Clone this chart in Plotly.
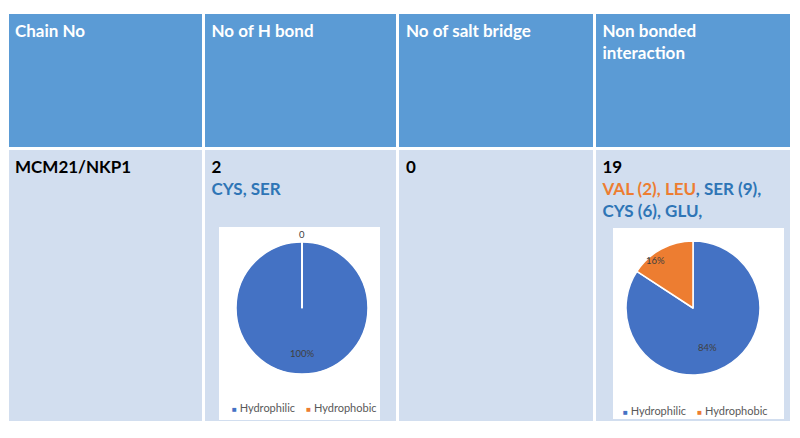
import math
import plotly.graph_objects as go

W, H = 800, 438

# ---- table data ----
header_labels = ["Chain No", "No of H bond", "No of salt bridge", "Non bonded<br>interaction"]
chain_name = "MCM21/NKP1"
h_bond_count = 2
h_bond_residues = ["CYS", "SER"]
salt_bridge_count = 0
nonbonded_count = 19
nonbonded_hydrophobic = ["VAL (2)", "LEU"]
nonbonded_hydrophilic = ["SER (9)", "CYS (6)", "GLU"]

# ---- pie data ----
pie_labels = ["Hydrophilic", "Hydrophobic"]
h_bond_pie = [2, 0]
nonbonded_pie = [16, 3]

HEADER_BLUE = "#5B9BD5"
BODY_BLUE = "#D2DEEF"
TEXT_BLUE = "#2E75B6"
ORANGE = "#ED7D31"
PIE_COLORS = ["#4472C4", "#ED7D31"]

# table geometry in pixels
T_LEFT, T_RIGHT, T_TOP = 7, 791, 12
HEADER_H, BODY_H = 136, 274


def px(x):
    return x / W


def py(y):
    return 1 - y / H


def colored(text, color):
    return f"<span style='color:{color}'>{text}</span>"


h_bond_cell = f"{h_bond_count}<br>" + colored(", ".join(h_bond_residues), TEXT_BLUE)
nonbonded_cell = (
    f"{nonbonded_count}<br>"
    + colored(", ".join(nonbonded_hydrophobic), ORANGE)
    + colored(", " + nonbonded_hydrophilic[0] + ",", TEXT_BLUE)
    + "<br>"
    + colored(", ".join(nonbonded_hydrophilic[1:]) + ",", TEXT_BLUE)
)
body_cells = [chain_name, h_bond_cell, str(salt_bridge_count), nonbonded_cell]

fig = go.Figure()

fig.add_trace(go.Table(
    domain=dict(x=[px(T_LEFT), px(T_RIGHT)], y=[py(T_TOP + HEADER_H + BODY_H + 2), py(T_TOP)]),
    columnwidth=[195, 193, 195, 195],
    header=dict(
        values=[f"<b>{t}</b>" for t in header_labels],
        fill_color=HEADER_BLUE,
        line=dict(color="white", width=3),
        align="left",
        height=HEADER_H,
        font=dict(family="Lato", size=17, color="white"),
    ),
    cells=dict(
        values=[[f"<b>{c}</b>"] for c in body_cells],
        fill_color="rgba(0,0,0,0)",
        line=dict(color="white", width=3),
        align="left",
        height=BODY_H,
        font=dict(family="Lato", size=17, color="black"),
    ),
))

# body row background sits under the pies
shapes = [dict(
    type="rect", layer="below", xref="paper", yref="paper",
    x0=px(T_LEFT), x1=px(T_RIGHT), y0=py(T_TOP + HEADER_H + BODY_H), y1=py(T_TOP + HEADER_H),
    fillcolor=BODY_BLUE, line=dict(width=0),
)]
annotations = []

pies = [
    dict(values=h_bond_pie, cx=302, cy=308, r=66, box=(219, 227, 380, 420), lx=304, ly=407),
    dict(values=nonbonded_pie, cx=693, cy=308, r=67, box=(613, 228, 784, 419), lx=695, ly=410),
]

for p in pies:
    bx0, by0, bx1, by1 = p["box"]
    shapes.append(dict(
        type="rect", layer="below", xref="paper", yref="paper",
        x0=px(bx0), x1=px(bx1), y0=py(by1), y1=py(by0),
        fillcolor="white", line=dict(width=0),
    ))
    cx, cy, r = p["cx"], p["cy"], p["r"]
    fig.add_trace(go.Pie(
        labels=pie_labels, values=p["values"],
        domain=dict(x=[px(cx - r), px(cx + r)], y=[py(cy + r), py(cy - r)]),
        marker=dict(colors=PIE_COLORS, line=dict(color="white", width=1.5)),
        sort=False, direction="clockwise", rotation=0,
        textinfo="none", hoverinfo="label+value+percent",
        showlegend=False,
    ))
    # data labels placed along each slice's mid angle
    total = sum(p["values"])
    start = 0.0
    for v in p["values"]:
        frac = v / total
        mid = (start + frac / 2) * 2 * math.pi
        if v > 0:
            dist, label = 0.8 * r, f"{round(frac * 100)}%"
        else:
            dist, label = r + 8, str(v)
            # boundary of the empty slice
            shapes.append(dict(
                type="line", xref="paper", yref="paper",
                x0=px(cx), y0=py(cy),
                x1=px(cx + r * math.sin(mid)), y1=py(cy - r * math.cos(mid)),
                line=dict(color="white", width=2),
            ))
        annotations.append(dict(
            xref="paper", yref="paper", showarrow=False,
            x=px(cx + dist * math.sin(mid)), y=py(cy - dist * math.cos(mid)),
            text=label, font=dict(family="Lato", size=9.5, color="#404040"),
        ))
        start += frac
    # compact Excel-style legend under each pie
    legend_text = "    ".join(
        f"<span style='color:{c};font-size:8px'>■</span> " + name
        for name, c in zip(pie_labels, PIE_COLORS)
    )
    annotations.append(dict(
        xref="paper", yref="paper", showarrow=False,
        x=px(p["lx"]), y=py(p["ly"]), xanchor="center", yanchor="middle",
        text=legend_text, font=dict(family="Lato", size=11, color="#595959"),
    ))

fig.update_layout(
    width=W, height=H,
    margin=dict(l=0, r=0, t=0, b=0),
    paper_bgcolor="white",
    showlegend=False,
    shapes=shapes,
    annotations=annotations,
)

fig.write_html(
    "out.html",
    config={"displayModeBar": False},
    post_script="document.body.style.margin='0px';",
)
